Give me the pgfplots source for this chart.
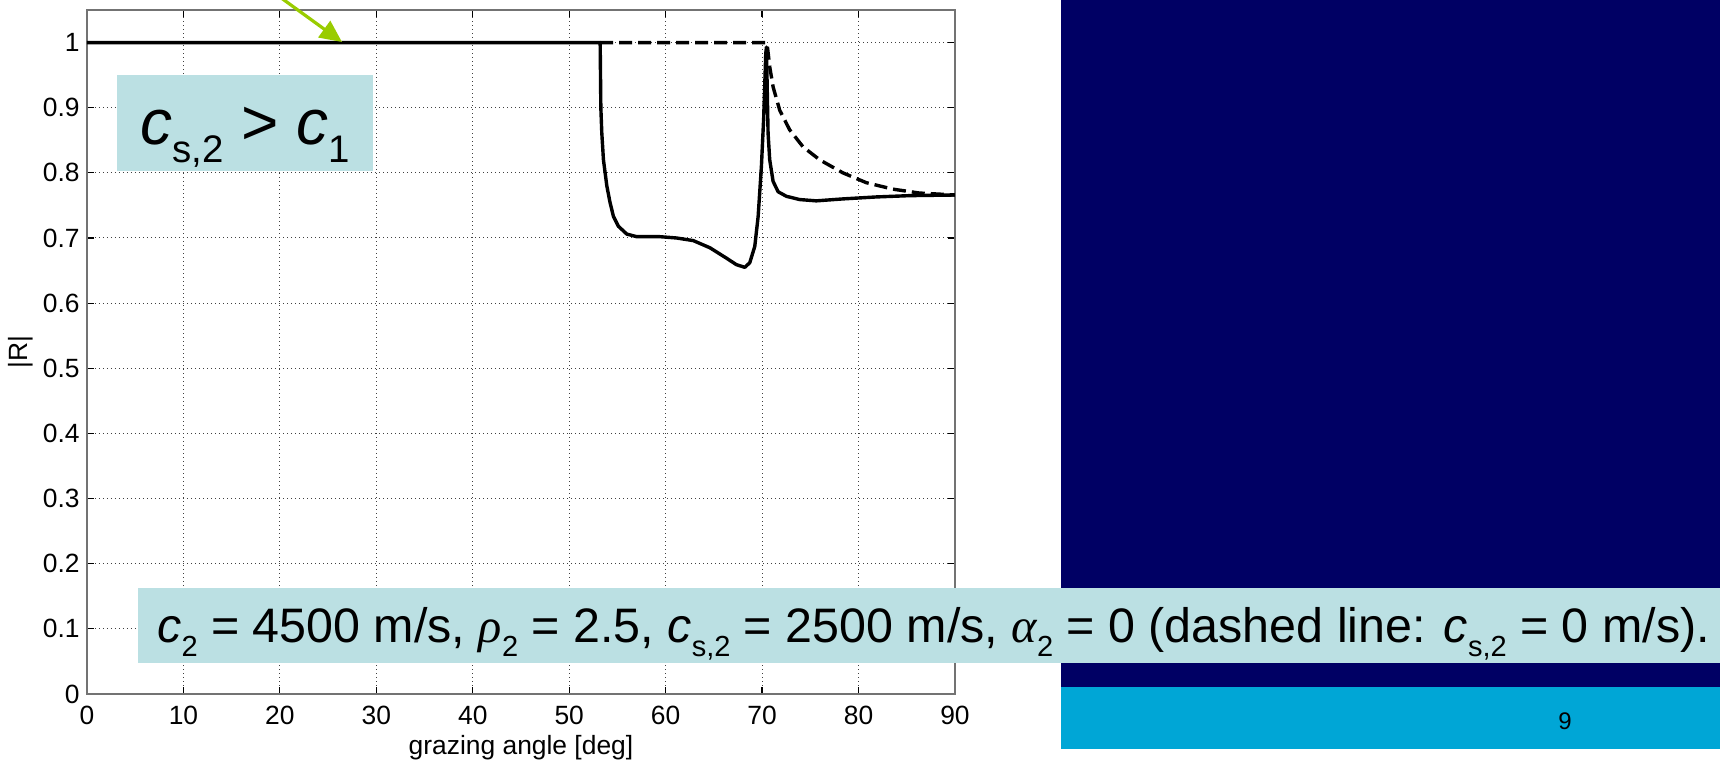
\documentclass[border=0pt]{standalone}
\usepackage{fontspec}
\setmainfont{Liberation Sans}
\newfontfamily\grk{Liberation Serif}
\usepackage{graphicx}
\usepackage{pgfplots}
\pgfplotsset{compat=1.18}
\usetikzlibrary{arrows.meta}
\definecolor{boxblue}{HTML}{BBE0E3}
\definecolor{navy}{HTML}{000064}
\definecolor{cyanband}{HTML}{00A6D6}
\definecolor{arrowgreen}{HTML}{99CC00}
\newcommand\sub[1]{\raisebox{-0.27em}{\scalebox{0.6}{#1}}}
\begin{document}
\begin{tikzpicture}[x=0.5pt,y=-0.5pt]
\useasboundingbox (0,0) rectangle (1720,763);
\begin{axis}[
  at={(43.5pt,-347pt)}, anchor=south west,
  scale only axis, width=434pt, height=342pt,
  xmin=0, xmax=90, ymin=0, ymax=1.05,
  xtick={0,10,20,30,40,50,60,70,80,90},
  ytick={0,0.1,0.2,0.3,0.4,0.5,0.6,0.7,0.8,0.9,1},
  grid=major,
  major grid style={black!75, line width=0.5pt, dash pattern=on 0.5pt off 1.5pt},
  axis line style={black!55, line width=0.6pt},
  tick style={black, line width=0.6pt},
  major tick length=3.5pt, tick align=inside,
  ticklabel style={font=\fontsize{13.2}{15}\selectfont},
  /pgf/number format/assume math mode=true,
  xticklabel style={anchor=north, inner sep=0pt, yshift=-6pt},
  yticklabel style={anchor=east, inner sep=0pt, xshift=-3.5pt},
  xlabel={grazing angle [deg]}, ylabel={|R|},
  label style={font=\fontsize{13.2}{15}\selectfont},
  xlabel style={at={(axis description cs:0.5,0)}, anchor=center, yshift=-27pt},
  ylabel style={at={(axis description cs:0,0.5)}, anchor=center, yshift=33pt},
]
\addplot[black, line width=1.7pt, line join=round] coordinates {
(0,1) (53.21,1) (53.28,0.90) (53.38,0.861) (53.55,0.82) (53.90,0.78) (54.24,0.754)
(54.59,0.733) (55.10,0.718) (55.97,0.706) (57.0,0.702) (59.41,0.702) (61.14,0.700)
(62.86,0.696) (64.59,0.685) (66.31,0.669) (67.34,0.659) (68.21,0.655) (68.72,0.662)
(69.24,0.687) (69.59,0.733) (69.93,0.81) (70.17,0.886) (70.38,0.983) (70.45,0.993)
(70.62,0.861) (70.79,0.82) (71.14,0.787) (71.66,0.771) (72.52,0.764) (73.90,0.759)
(75.62,0.757) (78.38,0.760) (81.83,0.763) (85.28,0.765) (90,0.766)
};
\addplot[black, line width=1.7pt, dash pattern=on 6.5pt off 3pt] coordinates {
(53.21,1) (70.5,1) (70.62,0.985) (70.79,0.963) (71.14,0.932) (71.83,0.896)
(72.86,0.866) (74.24,0.84) (75.97,0.82) (78.38,0.80) (80.79,0.785) (83.55,0.775)
(86.31,0.769) (90,0.766)
};
\end{axis}
\fill[navy] (1061,0) rectangle (1720,687);
\fill[cyanband] (1061,687) rectangle (1720,749);
\node[font=\fontsize{12}{14}\selectfont] at (1565,721) {9};
\fill[boxblue] (117,75) rectangle (373,171);
\node[anchor=base west, inner sep=0pt, font=\fontsize{32}{38}\selectfont] at (140,145)
  {\textit{c}\sub{s,2} > \textit{c}\sub{1}};
\fill[boxblue] (138,588) rectangle (1720,663);
\node[anchor=base west, inner sep=0pt, font=\fontsize{24.2}{28}\selectfont] at (157,643)
  {\textit{c}\sub{2} = 4500 m/s, {\grk\itshape ρ}\sub{2} = 2.5, \textit{c}\sub{s,2} = 2500 m/s, {\grk\itshape α}\sub{2} = 0 (dashed line: \textit{c}\sub{s,2} = 0 m/s).};
\draw[arrowgreen, line width=1.6pt, -{Triangle[length=11pt,width=10pt]}] (226,-42) -- (342,42);
\end{tikzpicture}
\end{document}
